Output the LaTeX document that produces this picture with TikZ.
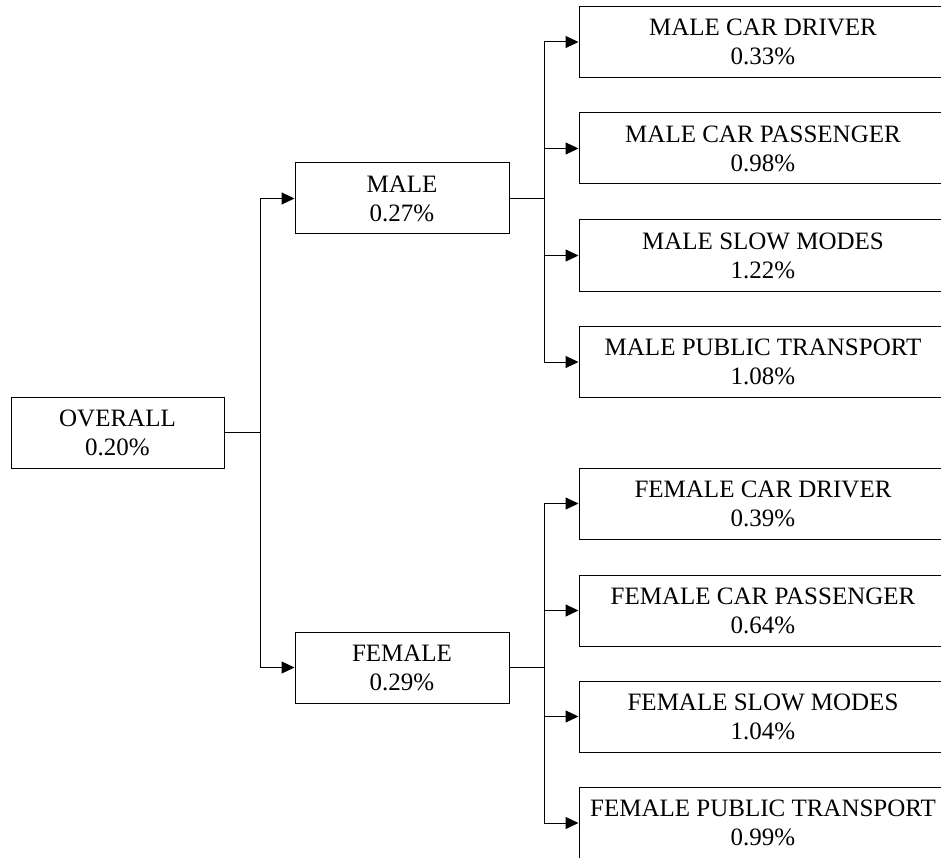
\documentclass[tikz,border=0pt]{standalone}
\usepackage{fontspec}
\setmainfont{Liberation Serif}
\usetikzlibrary{arrows.meta}
\begin{document}
\begin{tikzpicture}[x=1pt,y=-1pt,
  box/.style={draw, line width=1pt, rectangle, align=center, inner sep=0pt,
    minimum height=71pt, font=\fontsize{25}{29}\selectfont},
  midbox/.style={box, minimum width=214pt},
  leafbox/.style={box, minimum width=368pt},
  conn/.style={line width=1pt},
  arr/.style={conn, -{Triangle[length=13pt,width=12pt]}}]
\useasboundingbox (0,0) rectangle (941,858);
\clip (0,0) rectangle (941,858);
\fill[white] (0,0) rectangle (941,858);
\node[box, minimum width=213pt] (overall) at (117.5,432.5) {OVERALL\\0.20\%};
\node[midbox] (male) at (402,198.5) {MALE\\0.27\%};
\node[midbox] (female) at (402,667.5) {FEMALE\\0.29\%};
\node[leafbox] (mcd) at (763,42) {MALE CAR DRIVER\\0.33\%};
\node[leafbox] (mcp) at (763,148.5) {MALE CAR PASSENGER\\0.98\%};
\node[leafbox] (msm) at (763,255.5) {MALE SLOW MODES\\1.22\%};
\node[leafbox] (mpt) at (763,362) {MALE PUBLIC TRANSPORT\\1.08\%};
\node[leafbox] (fcd) at (763,503.5) {FEMALE CAR DRIVER\\0.39\%};
\node[leafbox] (fcp) at (763,610.5) {FEMALE CAR PASSENGER\\0.64\%};
\node[leafbox] (fsm) at (763,716.5) {FEMALE SLOW MODES\\1.04\%};
\node[leafbox] (fpt) at (763,823) {FEMALE PUBLIC TRANSPORT\\0.99\%};
\coordinate (j0) at (260,432.5);
\coordinate (j1) at (544,198.5);
\coordinate (j2) at (544,667.5);
\draw[conn] (overall.east) -- (j0);
\draw[arr] (j0) |- (male.west);
\draw[arr] (j0) |- (female.west);
\draw[conn] (male.east) -- (j1);
\foreach \n in {mcd,mcp,msm,mpt} \draw[arr] (j1) |- (\n.west);
\draw[conn] (female.east) -- (j2);
\foreach \n in {fcd,fcp,fsm,fpt} \draw[arr] (j2) |- (\n.west);
\end{tikzpicture}
\end{document}
